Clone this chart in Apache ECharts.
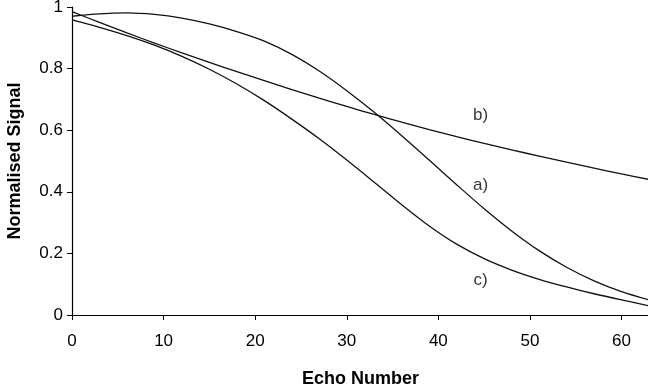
<!DOCTYPE html>
<html>
<head>
<meta charset="utf-8">
<script src="https://cdn.jsdelivr.net/npm/echarts@6/dist/echarts.min.js"></script>
<style>html,body{margin:0;padding:0;background:#fff}#c{width:648px;height:390px}</style>
</head>
<body>
<div id="c"></div>
<script>
const echoNumbers = [0,3,6,9,12,15,18,21,24,27,30,33,36,39,42,45,48,51,54,57,60,63];
const curveA = [0.970,0.978,0.981,0.976,0.964,0.945,0.920,0.889,0.846,0.792,0.728,0.658,0.582,0.503,0.423,0.345,0.273,0.209,0.155,0.111,0.076,0.049];
const curveB = [0.985,0.950,0.916,0.883,0.851,0.820,0.790,0.761,0.732,0.704,0.677,0.651,0.626,0.602,0.579,0.557,0.536,0.516,0.496,0.477,0.458,0.440];
const curveC = [0.958,0.934,0.907,0.876,0.840,0.798,0.750,0.696,0.636,0.572,0.503,0.431,0.358,0.289,0.230,0.183,0.146,0.116,0.091,0.069,0.049,0.030];
const curveNames = ['a)','b)','c)'];
const annotationX = [44.6,44.6,44.6];
const annotationY = [0.421,0.648,0.113];

const font = 'Liberation Sans, Arial, sans-serif';
const lineStyle = {color:'#111', width:1.3};
function pairs(vals){ return echoNumbers.map((x,i)=>[x, vals[i]]); }

const chart = echarts.init(document.getElementById('c'), null, {renderer:'canvas'});
chart.setOption({
  animation:false,
  backgroundColor:'#fff',
  grid:{left:72, right:-1, top:7, bottom:75, containLabel:false, outerBoundsMode:'none'},
  xAxis:{
    type:'value', min:0, max:63, interval:10,
    name:'Echo Number', nameLocation:'middle', nameGap:55,
    nameTextStyle:{fontFamily:font, fontSize:18, fontWeight:'bold', color:'#000'},
    axisLine:{lineStyle:{color:'#000', width:1.2}},
    axisTick:{show:true, length:5, lineStyle:{color:'#000'}},
    axisLabel:{fontFamily:font, fontSize:17, color:'#000', margin:18, showMaxLabel:false,
      formatter:v=> (v%10===0? String(v):'')},
    splitLine:{show:false}
  },
  yAxis:{
    type:'value', min:0, max:1, interval:0.2,
    name:'Normalised Signal', nameLocation:'middle', nameGap:48, nameRotate:90,
    nameTextStyle:{fontFamily:font, fontSize:18, fontWeight:'bold', color:'#000'},
    axisLine:{show:true, lineStyle:{color:'#000', width:1.2}},
    axisTick:{show:true, length:5, lineStyle:{color:'#000'}},
    axisLabel:{fontFamily:font, fontSize:17, color:'#000', margin:9,
      formatter:v=> String(Math.round(v*10)/10)},
    splitLine:{show:false}
  },
  series:[
    {type:'line', name:curveNames[0], data:pairs(curveA), smooth:0.3, showSymbol:false, lineStyle:lineStyle, z:3},
    {type:'line', name:curveNames[1], data:pairs(curveB), smooth:0.3, showSymbol:false, lineStyle:lineStyle, z:3},
    {type:'line', name:curveNames[2], data:pairs(curveC), smooth:0.3, showSymbol:false, lineStyle:lineStyle, z:3},
    {type:'scatter', symbolSize:0, silent:true,
      data: curveNames.map((n,i)=>({value:[annotationX[i], annotationY[i]], name:n})),
      label:{show:true, position:'inside', formatter:p=>p.name, fontFamily:font, fontSize:17, color:'#000'}}
  ]
});
</script>
</body>
</html>
